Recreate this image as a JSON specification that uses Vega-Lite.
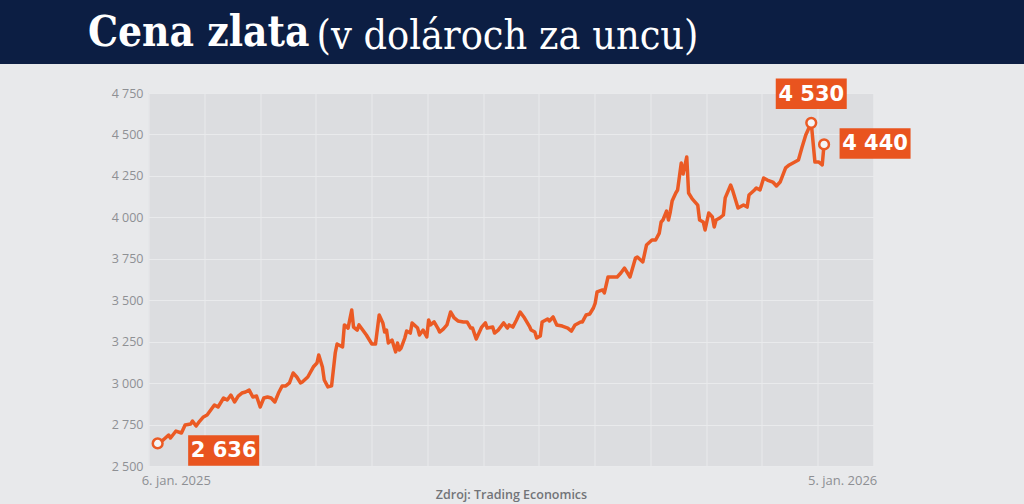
{
  "$schema": "https://vega.github.io/schema/vega-lite/v6.json",
  "width": 725,
  "height": 373,
  "autosize": {"type": "none"},
  "padding": {"left": 148.5, "top": 93, "right": 150.5, "bottom": 38},
  "background": "#e8e9eb",
  "config": {
    "view": {"fill": "#dcdde0", "stroke": null},
    "font": "Open Sans"
  },
  "title": {
    "text": "Cena zlata",
    "anchor": "start",
    "frame": "group",
    "orient": "top",
    "dx": -60.5,
    "offset": -55,
    "font": "DejaVu Serif Condensed",
    "fontSize": 42,
    "fontWeight": "bold",
    "color": "#ffffff"
  },
  "resolve": {"axis": {"y": "independent"}},
  "datasets": {
    "gold": [
      {"date": "2025-01-06", "value": 2636}, {"date": "2025-01-09", "value": 2657}, {"date": "2025-01-12", "value": 2687},
      {"date": "2025-01-13", "value": 2669}, {"date": "2025-01-16", "value": 2711}, {"date": "2025-01-19", "value": 2699},
      {"date": "2025-01-21", "value": 2747}, {"date": "2025-01-24", "value": 2753}, {"date": "2025-01-25", "value": 2771},
      {"date": "2025-01-27", "value": 2741}, {"date": "2025-01-29", "value": 2771}, {"date": "2025-01-31", "value": 2796},
      {"date": "2025-02-02", "value": 2808}, {"date": "2025-02-04", "value": 2838}, {"date": "2025-02-06", "value": 2868},
      {"date": "2025-02-08", "value": 2856}, {"date": "2025-02-11", "value": 2910}, {"date": "2025-02-13", "value": 2898},
      {"date": "2025-02-15", "value": 2928}, {"date": "2025-02-17", "value": 2886}, {"date": "2025-02-19", "value": 2922},
      {"date": "2025-02-21", "value": 2940}, {"date": "2025-02-23", "value": 2946}, {"date": "2025-02-25", "value": 2958},
      {"date": "2025-02-27", "value": 2916}, {"date": "2025-03-01", "value": 2922}, {"date": "2025-03-03", "value": 2856},
      {"date": "2025-03-05", "value": 2910}, {"date": "2025-03-07", "value": 2916}, {"date": "2025-03-09", "value": 2910},
      {"date": "2025-03-11", "value": 2886}, {"date": "2025-03-13", "value": 2940}, {"date": "2025-03-15", "value": 2983},
      {"date": "2025-03-17", "value": 2983}, {"date": "2025-03-19", "value": 3001}, {"date": "2025-03-21", "value": 3061},
      {"date": "2025-03-23", "value": 3037}, {"date": "2025-03-25", "value": 3001}, {"date": "2025-03-26", "value": 3007},
      {"date": "2025-03-29", "value": 3037}, {"date": "2025-04-01", "value": 3097}, {"date": "2025-04-03", "value": 3121},
      {"date": "2025-04-04", "value": 3170}, {"date": "2025-04-06", "value": 3097}, {"date": "2025-04-07", "value": 3019},
      {"date": "2025-04-09", "value": 2977}, {"date": "2025-04-11", "value": 2983}, {"date": "2025-04-13", "value": 3182},
      {"date": "2025-04-14", "value": 3236}, {"date": "2025-04-17", "value": 3218}, {"date": "2025-04-18", "value": 3351},
      {"date": "2025-04-20", "value": 3332}, {"date": "2025-04-22", "value": 3441}, {"date": "2025-04-23", "value": 3338},
      {"date": "2025-04-25", "value": 3320}, {"date": "2025-04-26", "value": 3351}, {"date": "2025-04-28", "value": 3320},
      {"date": "2025-04-30", "value": 3290}, {"date": "2025-05-03", "value": 3236}, {"date": "2025-05-05", "value": 3236},
      {"date": "2025-05-07", "value": 3411}, {"date": "2025-05-09", "value": 3363}, {"date": "2025-05-10", "value": 3308},
      {"date": "2025-05-11", "value": 3320}, {"date": "2025-05-12", "value": 3242}, {"date": "2025-05-14", "value": 3260},
      {"date": "2025-05-16", "value": 3188}, {"date": "2025-05-17", "value": 3242}, {"date": "2025-05-18", "value": 3200},
      {"date": "2025-05-19", "value": 3212}, {"date": "2025-05-21", "value": 3272}, {"date": "2025-05-22", "value": 3314},
      {"date": "2025-05-24", "value": 3302}, {"date": "2025-05-25", "value": 3363}, {"date": "2025-05-28", "value": 3332},
      {"date": "2025-05-29", "value": 3290}, {"date": "2025-05-31", "value": 3320}, {"date": "2025-06-02", "value": 3278},
      {"date": "2025-06-03", "value": 3381}, {"date": "2025-06-04", "value": 3351}, {"date": "2025-06-06", "value": 3369},
      {"date": "2025-06-08", "value": 3332}, {"date": "2025-06-09", "value": 3308}, {"date": "2025-06-11", "value": 3326},
      {"date": "2025-06-13", "value": 3351}, {"date": "2025-06-15", "value": 3429}, {"date": "2025-06-17", "value": 3393},
      {"date": "2025-06-19", "value": 3375}, {"date": "2025-06-22", "value": 3369}, {"date": "2025-06-24", "value": 3369},
      {"date": "2025-06-26", "value": 3332}, {"date": "2025-06-27", "value": 3332}, {"date": "2025-06-29", "value": 3266},
      {"date": "2025-07-02", "value": 3338}, {"date": "2025-07-04", "value": 3363}, {"date": "2025-07-05", "value": 3332},
      {"date": "2025-07-08", "value": 3338}, {"date": "2025-07-09", "value": 3302}, {"date": "2025-07-11", "value": 3320},
      {"date": "2025-07-14", "value": 3363}, {"date": "2025-07-16", "value": 3332}, {"date": "2025-07-17", "value": 3351},
      {"date": "2025-07-19", "value": 3338}, {"date": "2025-07-21", "value": 3381}, {"date": "2025-07-23", "value": 3429},
      {"date": "2025-07-25", "value": 3399}, {"date": "2025-07-28", "value": 3344}, {"date": "2025-07-29", "value": 3320},
      {"date": "2025-07-31", "value": 3308}, {"date": "2025-08-01", "value": 3272}, {"date": "2025-08-03", "value": 3284},
      {"date": "2025-08-04", "value": 3369}, {"date": "2025-08-07", "value": 3387}, {"date": "2025-08-08", "value": 3375},
      {"date": "2025-08-10", "value": 3399}, {"date": "2025-08-12", "value": 3351}, {"date": "2025-08-15", "value": 3344},
      {"date": "2025-08-18", "value": 3332}, {"date": "2025-08-20", "value": 3314}, {"date": "2025-08-22", "value": 3351},
      {"date": "2025-08-25", "value": 3369}, {"date": "2025-08-26", "value": 3369}, {"date": "2025-08-28", "value": 3411},
      {"date": "2025-08-30", "value": 3417}, {"date": "2025-09-01", "value": 3453}, {"date": "2025-09-02", "value": 3483},
      {"date": "2025-09-03", "value": 3550}, {"date": "2025-09-06", "value": 3562}, {"date": "2025-09-07", "value": 3544},
      {"date": "2025-09-09", "value": 3640}, {"date": "2025-09-12", "value": 3640}, {"date": "2025-09-14", "value": 3640},
      {"date": "2025-09-16", "value": 3664}, {"date": "2025-09-18", "value": 3694}, {"date": "2025-09-21", "value": 3640},
      {"date": "2025-09-24", "value": 3755}, {"date": "2025-09-25", "value": 3761}, {"date": "2025-09-28", "value": 3731},
      {"date": "2025-09-30", "value": 3833}, {"date": "2025-10-03", "value": 3863}, {"date": "2025-10-05", "value": 3863},
      {"date": "2025-10-07", "value": 3905}, {"date": "2025-10-08", "value": 3972}, {"date": "2025-10-09", "value": 3984},
      {"date": "2025-10-11", "value": 4038}, {"date": "2025-10-12", "value": 3984}, {"date": "2025-10-13", "value": 4032},
      {"date": "2025-10-14", "value": 4098}, {"date": "2025-10-16", "value": 4147}, {"date": "2025-10-17", "value": 4165},
      {"date": "2025-10-19", "value": 4328}, {"date": "2025-10-20", "value": 4261}, {"date": "2025-10-22", "value": 4364},
      {"date": "2025-10-23", "value": 4147}, {"date": "2025-10-25", "value": 4111}, {"date": "2025-10-28", "value": 4074},
      {"date": "2025-10-29", "value": 3984}, {"date": "2025-10-31", "value": 3972}, {"date": "2025-11-01", "value": 3924},
      {"date": "2025-11-03", "value": 4026}, {"date": "2025-11-05", "value": 4002}, {"date": "2025-11-06", "value": 3942},
      {"date": "2025-11-07", "value": 3984}, {"date": "2025-11-09", "value": 3996}, {"date": "2025-11-11", "value": 4014},
      {"date": "2025-11-12", "value": 4117}, {"date": "2025-11-15", "value": 4195}, {"date": "2025-11-16", "value": 4165},
      {"date": "2025-11-19", "value": 4056}, {"date": "2025-11-22", "value": 4074}, {"date": "2025-11-24", "value": 4062},
      {"date": "2025-11-25", "value": 4135}, {"date": "2025-11-28", "value": 4165}, {"date": "2025-11-29", "value": 4177},
      {"date": "2025-12-01", "value": 4165}, {"date": "2025-12-03", "value": 4237}, {"date": "2025-12-05", "value": 4225},
      {"date": "2025-12-08", "value": 4213}, {"date": "2025-12-10", "value": 4189}, {"date": "2025-12-12", "value": 4213},
      {"date": "2025-12-15", "value": 4298}, {"date": "2025-12-17", "value": 4316}, {"date": "2025-12-20", "value": 4334},
      {"date": "2025-12-22", "value": 4346}, {"date": "2025-12-24", "value": 4424}, {"date": "2025-12-26", "value": 4497},
      {"date": "2025-12-29", "value": 4570}, {"date": "2025-12-31", "value": 4334}, {"date": "2026-01-02", "value": 4334},
      {"date": "2026-01-04", "value": 4316}, {"date": "2026-01-05", "value": 4440}
    ],
    "marks": [
      {"date": "2025-01-06", "value": 2636, "label": "2 636"},
      {"date": "2025-12-29", "value": 4570, "label": "4 530"},
      {"date": "2026-01-05", "value": 4440, "label": "4 440"}
    ],
    "dates": [
      {"date": "2025-01-06", "label": "6. jan. 2025"},
      {"date": "2026-01-05", "label": "5. jan. 2026"}
    ]
  },
  "layer": [
    {
      "data": {"values": [{"band": "title"}]},
      "mark": {"type": "rect", "color": "#0c1e43", "clip": false},
      "encoding": {
        "x": {"datum": {"year": 2024, "month": 8, "date": 1, "utc": true}, "type": "temporal"},
        "x2": {"datum": {"year": 2026, "month": 7, "date": 1, "utc": true}},
        "y": {"datum": 4925, "type": "quantitative", "axis": null},
        "y2": {"datum": 5311}
      }
    },
    {
      "data": {"name": "gold"},
      "mark": {"type": "line", "color": "#eb5a24", "strokeWidth": 3.5, "strokeJoin": "round", "strokeCap": "round"},
      "encoding": {
        "x": {
          "field": "date", "type": "temporal",
          "scale": {"type": "utc", "domain": [1735689600000, 1769904000000]},
          "axis": {
            "values": [1735689600000, 1738321476923, 1740953353846, 1743585230769, 1746217107692, 1748848984615, 1751480861538, 1754112738462, 1756744615385, 1759376492308, 1762008369231, 1764640246154, 1767272123077, 1769904000000],
            "grid": true, "gridColor": "#e9eaec", "gridWidth": 1,
            "labels": false, "ticks": false, "domain": false,
            "title": "Zdroj: Trading Economics",
            "titleFont": "Open Sans", "titleFontSize": 12.5, "titleFontWeight": 600,
            "titleColor": "#727478", "titlePadding": 22
          }
        },
        "y": {
          "field": "value", "type": "quantitative",
          "scale": {"domain": [2500, 4750], "nice": false, "zero": false},
          "axis": {
            "orient": "left",
            "values": [2500, 2750, 3000, 3250, 3500, 3750, 4000, 4250, 4500, 4750],
            "grid": true, "gridColor": "#e9eaec", "gridWidth": 1,
            "ticks": false, "domain": false, "title": null,
            "labelExpr": "replace(format(datum.value, ','), ',', ' ')",
            "labelFont": "Open Sans", "labelFontSize": 12.5, "labelColor": "#8e9094",
            "labelPadding": 5.5
          }
        }
      }
    },
    {
      "data": {"name": "marks"},
      "mark": {"type": "point", "shape": "circle", "filled": true, "fill": "#f4f4f5", "stroke": "#eb5a24", "strokeWidth": 2.5, "size": 95, "opacity": 1},
      "encoding": {
        "x": {"field": "date", "type": "temporal"},
        "y": {"field": "value", "type": "quantitative", "axis": null}
      }
    },
    {
      "data": {"name": "marks"},
      "transform": [{"filter": "datum.label == '2 636'"}],
      "layer": [
        {
          "mark": {"type": "point", "shape": "M-1,-0.43H1V0.43H-1Z", "filled": true, "color": "#e9541f", "opacity": 1, "size": 5041, "xOffset": 66, "yOffset": 7},
          "encoding": {"x": {"field": "date", "type": "temporal"}, "y": {"field": "value", "type": "quantitative", "axis": null}}
        },
        {
          "mark": {"type": "text", "font": "DejaVu Sans", "fontWeight": "bold", "fontSize": 21, "color": "#ffffff", "align": "center", "baseline": "middle", "dx": 66, "dy": 8},
          "encoding": {"x": {"field": "date", "type": "temporal"}, "y": {"field": "value", "type": "quantitative", "axis": null}, "text": {"field": "label"}}
        }
      ]
    },
    {
      "data": {"name": "marks"},
      "transform": [{"filter": "datum.label == '4 530'"}],
      "layer": [
        {
          "mark": {"type": "point", "shape": "M-1,-0.43H1V0.43H-1Z", "filled": true, "color": "#e9541f", "opacity": 1, "size": 5041, "xOffset": 0, "yOffset": -29},
          "encoding": {"x": {"field": "date", "type": "temporal"}, "y": {"field": "value", "type": "quantitative", "axis": null}}
        },
        {
          "mark": {"type": "text", "font": "DejaVu Sans", "fontWeight": "bold", "fontSize": 21, "color": "#ffffff", "align": "center", "baseline": "middle", "dx": 0, "dy": -28},
          "encoding": {"x": {"field": "date", "type": "temporal"}, "y": {"field": "value", "type": "quantitative", "axis": null}, "text": {"field": "label"}}
        }
      ]
    },
    {
      "data": {"name": "marks"},
      "transform": [{"filter": "datum.label == '4 440'"}],
      "layer": [
        {
          "mark": {"type": "point", "shape": "M-1,-0.43H1V0.43H-1Z", "filled": true, "color": "#e9541f", "opacity": 1, "size": 5041, "xOffset": 51, "yOffset": -1},
          "encoding": {"x": {"field": "date", "type": "temporal"}, "y": {"field": "value", "type": "quantitative", "axis": null}}
        },
        {
          "mark": {"type": "text", "font": "DejaVu Sans", "fontWeight": "bold", "fontSize": 21, "color": "#ffffff", "align": "center", "baseline": "middle", "dx": 51, "dy": 0},
          "encoding": {"x": {"field": "date", "type": "temporal"}, "y": {"field": "value", "type": "quantitative", "axis": null}, "text": {"field": "label"}}
        }
      ]
    },
    {
      "data": {"name": "dates"},
      "mark": {"type": "text", "font": "Open Sans", "fontSize": 13, "fontWeight": 500, "color": "#8d8f93", "align": "left", "baseline": "middle", "dx": -16, "dy": 15},
      "encoding": {
        "x": {"field": "date", "type": "temporal"},
        "y": {
          "datum": 2500, "type": "quantitative",
          "axis": {
            "orient": "left", "zindex": 1,
            "grid": false, "labels": false, "ticks": false, "domain": false,
            "title": "(v dolároch za uncu)",
            "titleFont": "DejaVu Serif Condensed", "titleFontSize": 41, "titleFontWeight": "normal",
            "titleColor": "#ffffff", "titleAngle": 0, "titleAlign": "left", "titleBaseline": "alphabetic",
            "titleX": 167.5, "titleY": -45
          }
        },
        "text": {"field": "label"}
      }
    }
  ]
}
